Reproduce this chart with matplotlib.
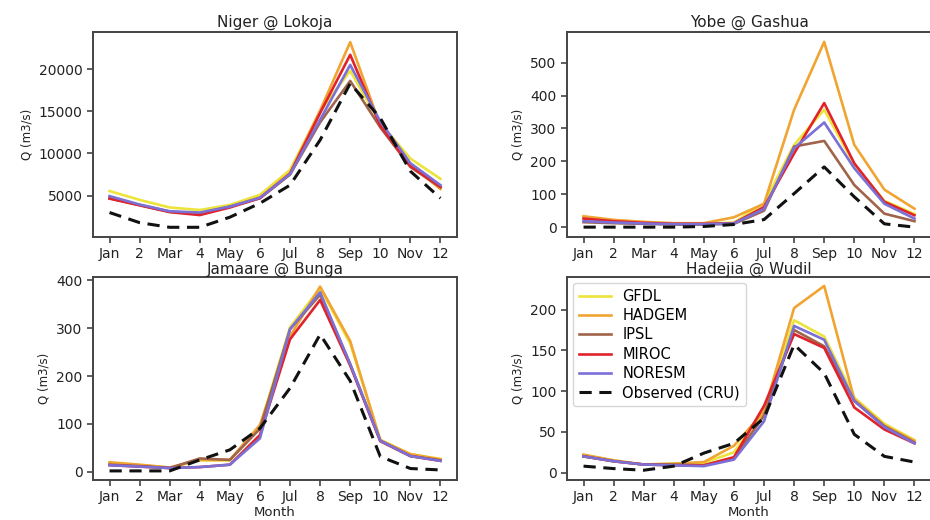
import matplotlib
matplotlib.use("Agg")
import matplotlib.pyplot as plt

months = list(range(1, 13))
month_labels = ["Jan", "2", "Mar", "4", "May", "6", "Jul", "8", "Sep", "10", "Nov", "12"]
series_names = ["GFDL", "HADGEM", "IPSL", "MIROC", "NORESM", "Observed (CRU)"]

# Niger @ Lokoja
niger_gfdl   = [5550, 4500, 3600, 3300, 3900, 5100, 8050, 15000, 19800, 13600, 9400, 7000]
niger_hadgem = [4700, 3900, 3100, 2800, 3700, 4800, 7700, 15100, 23200, 13300, 8600, 5800]
niger_ipsl   = [4700, 3900, 3100, 2900, 3700, 4700, 7500, 13700, 18600, 13100, 8400, 6000]
niger_miroc  = [4650, 3850, 3050, 2700, 3600, 4700, 7600, 14800, 21700, 13300, 8500, 6050]
niger_noresm = [4950, 3950, 3150, 3000, 3700, 4750, 7550, 14000, 20500, 13800, 8850, 6250]
niger_obs    = [3000, 1800, 1250, 1250, 2450, 4100, 6250, 11600, 18300, 14200, 7900, 4700]

# Yobe @ Gashua
yobe_gfdl   = [30, 20, 14, 11, 10, 14, 72, 250, 357, 190, 80, 40]
yobe_hadgem = [33, 22, 16, 12, 12, 30, 71, 357, 563, 250, 114, 56]
yobe_ipsl   = [15, 12, 10, 8, 8, 10, 50, 245, 262, 128, 41, 18]
yobe_miroc  = [26, 18, 13, 10, 10, 12, 61, 224, 377, 194, 77, 36]
yobe_noresm = [18, 14, 11, 9, 9, 11, 55, 240, 318, 179, 71, 26]
yobe_obs    = [0, 0, 0, 0, 2, 8, 23, 102, 183, 92, 10, 0]

# Jamaare @ Bunga
jamaare_gfdl   = [19, 14, 9, 24, 24, 95, 302, 384, 268, 67, 37, 27]
jamaare_hadgem = [20, 15, 9, 25, 25, 98, 283, 387, 273, 66, 37, 26]
jamaare_ipsl   = [15, 12, 8, 28, 25, 90, 298, 370, 225, 65, 33, 24]
jamaare_miroc  = [14, 11, 8, 10, 15, 77, 277, 359, 222, 64, 33, 23]
jamaare_noresm = [14, 11, 8, 10, 15, 70, 298, 375, 225, 65, 33, 23]
jamaare_obs    = [2, 2, 2, 25, 46, 91, 175, 287, 190, 32, 7, 4]

# Hadejia @ Wudil
hadejia_gfdl   = [22, 15, 10, 11, 12, 25, 75, 187, 167, 92, 60, 40]
hadejia_hadgem = [22, 15, 10, 11, 13, 33, 75, 202, 229, 90, 58, 39]
hadejia_ipsl   = [20, 14, 10, 10, 9, 18, 70, 175, 155, 88, 57, 37]
hadejia_miroc  = [20, 14, 10, 9, 9, 19, 82, 170, 153, 80, 53, 36]
hadejia_noresm = [20, 14, 10, 9, 8, 16, 63, 180, 163, 88, 56, 36]
hadejia_obs    = [8, 5, 3, 8, 24, 36, 67, 157, 122, 47, 20, 13]

colors = ["#ece43a", "#f0a431", "#a0644a", "#e0232a", "#7a70d6", "#111111"]

panels = [
    ("Niger @ Lokoja", [niger_gfdl, niger_hadgem, niger_ipsl, niger_miroc, niger_noresm, niger_obs],
     [5000, 10000, 15000, 20000], (100, 24400)),
    ("Yobe @ Gashua", [yobe_gfdl, yobe_hadgem, yobe_ipsl, yobe_miroc, yobe_noresm, yobe_obs],
     [0, 100, 200, 300, 400, 500], (-30, 593)),
    ("Jamaare @ Bunga", [jamaare_gfdl, jamaare_hadgem, jamaare_ipsl, jamaare_miroc, jamaare_noresm, jamaare_obs],
     [0, 100, 200, 300, 400], (-17, 407)),
    ("Hadejia @ Wudil", [hadejia_gfdl, hadejia_hadgem, hadejia_ipsl, hadejia_miroc, hadejia_noresm, hadejia_obs],
     [0, 50, 100, 150, 200], (-9, 240)),
]

W, H = 930, 520
boxes = [
    (93, 32, 364, 205),
    (567, 32, 364, 205),
    (93, 277, 364, 203),
    (567, 277, 364, 203),
]

fig = plt.figure(figsize=(W / 100, H / 100), dpi=100)
spine_col = "#444444"
text_col = "#222222"

for i, ((title, series, yticks, ylim), (x0, y0, w, h)) in enumerate(zip(panels, boxes)):
    ax = fig.add_axes([x0 / W, 1 - (y0 + h) / H, w / W, h / H])
    for name, vals, col in zip(series_names, series, colors):
        if name.startswith("Observed"):
            ax.plot(months, vals, color=col, lw=2.2, ls=(0, (4, 2.5)), label=name)
        else:
            ax.plot(months, vals, color=col, lw=1.9, label=name)
    ax.set_xlim(0.45, 12.55)
    ax.set_ylim(*ylim)
    ax.set_xticks(months)
    ax.set_xticklabels(month_labels)
    ax.set_yticks(yticks)
    ax.tick_params(labelsize=10, colors=spine_col, labelcolor=text_col, width=1.2, length=4)
    for s in ax.spines.values():
        s.set_color(spine_col)
        s.set_linewidth(1.4)
    ax.set_title(title, fontsize=11, color=text_col, pad=2 if i >= 2 else 4)
    ax.set_ylabel("Q (m3/s)", fontsize=8.5, color=text_col)
    if i >= 2:
        ax.set_xlabel("Month", fontsize=9.5, color=text_col, labelpad=1)
    if i == 3:
        ax.legend(loc="upper left", fontsize=10.5, handlelength=2.2, labelspacing=0.3,
                  borderaxespad=0.4, frameon=True, framealpha=0.8, edgecolor="#cccccc")

fig.savefig("out.png", dpi=100)
